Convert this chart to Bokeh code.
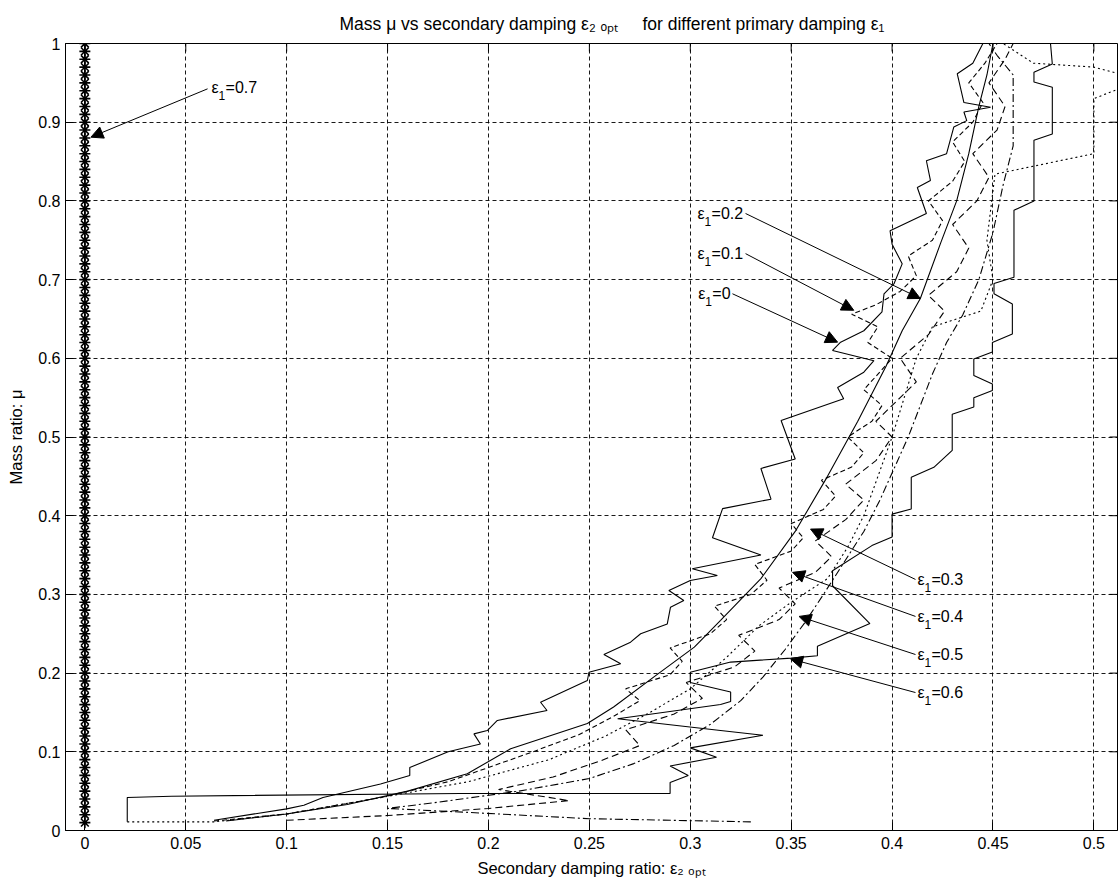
from bokeh.plotting import figure
from bokeh.models import Range1d, FixedTicker, Arrow, NormalHead, ColumnDataSource
from bokeh.core.properties import value
from bokeh.embed import file_html
from bokeh.resources import INLINE

FONT = "Liberation Sans"
NBSP = "\u00a0"

# ---- axes ----------------------------------------------------------------
X_TICKS = [0, 0.05, 0.1, 0.15, 0.2, 0.25, 0.3, 0.35, 0.4, 0.45, 0.5]
X_TICK_LABELS = ["0", "0.05", "0.1", "0.15", "0.2", "0.25", "0.3", "0.35", "0.4", "0.45", "0.5"]
Y_TICKS = [0, 0.1, 0.2, 0.3, 0.4, 0.5, 0.6, 0.7, 0.8, 0.9, 1]
Y_TICK_LABELS = ["0", "0.1", "0.2", "0.3", "0.4", "0.5", "0.6", "0.7", "0.8", "0.9", "1"]

TITLE = ("Mass \u03bc vs secondary damping \u03b5\u2082 \u2092\u209a\u209c" + NBSP * 5 +
         "for different primary damping \u03b5\u2081")
X_LABEL = "Secondary damping ratio: \u03b5\u2082 \u2092\u209a\u209c"
Y_LABEL = "Mass ratio: \u03bc"

# ---- optimum secondary damping (x) against mass ratio (y) -----------------
# eps1 = 0 : solid
EPS2_E0 = [0.064, 0.100, 0.1085, 0.118, 0.1465, 0.161, 0.161, 0.180, 0.196, 0.1928, 0.1994,
           0.2044, 0.229, 0.2258, 0.249, 0.2498, 0.2655, 0.2572, 0.2704, 0.2754, 0.2886,
           0.2902, 0.2968, 0.2894, 0.300, 0.3134, 0.301, 0.335, 0.311, 0.316, 0.340, 0.335,
           0.352, 0.345, 0.376, 0.373, 0.386, 0.391, 0.3705, 0.3745, 0.386, 0.395, 0.396,
           0.401, 0.405, 0.400, 0.399, 0.417, 0.4125, 0.419, 0.417, 0.427, 0.4306, 0.437,
           0.4356, 0.4488, 0.4356, 0.4323, 0.440, 0.445]
MU_E0 = [0.013, 0.0275, 0.032, 0.042, 0.059, 0.070, 0.080, 0.100, 0.110, 0.1228, 0.127,
         0.1398, 0.1525, 0.163, 0.1906, 0.2011, 0.2118, 0.2236, 0.2393, 0.250, 0.2625,
         0.2837, 0.2922, 0.305, 0.3177, 0.324, 0.3325, 0.350, 0.372, 0.409, 0.421, 0.460,
         0.472, 0.521, 0.5485, 0.563, 0.5824, 0.597, 0.610, 0.6205, 0.635, 0.659, 0.682,
         0.695, 0.720, 0.745, 0.762, 0.784, 0.817, 0.826, 0.851, 0.860, 0.894, 0.902,
         0.913, 0.919, 0.925, 0.9615, 0.975, 1.000]

# eps1 = 0.1 : dashed
EPS2_E1 = [0.064, 0.100, 0.147, 0.180, 0.200, 0.222, 0.245, 0.262, 0.275, 0.268, 0.290,
           0.296, 0.290, 0.310, 0.318, 0.312, 0.330, 0.338, 0.332, 0.350, 0.356, 0.350,
           0.366, 0.372, 0.365, 0.380, 0.386, 0.378, 0.390, 0.395, 0.386, 0.393, 0.400,
           0.388, 0.393, 0.380, 0.392, 0.404, 0.412, 0.408, 0.420, 0.425, 0.418, 0.430,
           0.436, 0.430, 0.440, 0.445, 0.438, 0.446, 0.452]
MU_E1 = [0.012, 0.021, 0.042, 0.062, 0.080, 0.100, 0.122, 0.145, 0.165, 0.180, 0.198,
         0.215, 0.232, 0.250, 0.268, 0.285, 0.300, 0.318, 0.338, 0.355, 0.372, 0.390,
         0.408, 0.425, 0.445, 0.462, 0.480, 0.500, 0.520, 0.540, 0.560, 0.580, 0.600,
         0.620, 0.640, 0.656, 0.668, 0.685, 0.705, 0.730, 0.750, 0.775, 0.800, 0.825,
         0.850, 0.875, 0.900, 0.925, 0.950, 0.975, 1.000]

# eps1 = 0.2 : solid, smooth
EPS2_E2 = [0.070, 0.100, 0.130, 0.160, 0.1895, 0.211, 0.249, 0.262, 0.284, 0.302, 0.315,
           0.335, 0.352, 0.368, 0.383, 0.397, 0.405, 0.414, 0.424, 0.432, 0.438, 0.443,
           0.447, 0.450]
MU_E2 = [0.012, 0.021, 0.033, 0.050, 0.072, 0.104, 0.136, 0.157, 0.199, 0.233, 0.267,
         0.320, 0.380, 0.450, 0.520, 0.590, 0.635, 0.676, 0.746, 0.800, 0.860, 0.920,
         0.960, 1.000]

# eps1 = 0.3 : dash-dot
EPS2_E3 = [0.330, 0.250, 0.190, 0.150, 0.175, 0.215, 0.250, 0.272, 0.292, 0.310, 0.325,
           0.336, 0.347, 0.357, 0.366, 0.376, 0.386, 0.394, 0.401, 0.408, 0.414, 0.420,
           0.427, 0.435, 0.443, 0.450, 0.455, 0.460, 0.460, 0.452, 0.448]
MU_E3 = [0.011, 0.015, 0.023, 0.028, 0.036, 0.050, 0.066, 0.085, 0.108, 0.135, 0.165,
         0.195, 0.230, 0.265, 0.300, 0.340, 0.380, 0.420, 0.460, 0.500, 0.540, 0.580,
         0.620, 0.655, 0.700, 0.760, 0.820, 0.870, 0.960, 0.985, 1.000]

# eps1 = 0.4 : long dashes
EPS2_E4 = [0.100, 0.150, 0.200, 0.240, 0.205, 0.232, 0.255, 0.275, 0.268, 0.292, 0.306,
           0.298, 0.322, 0.332, 0.324, 0.344, 0.352, 0.344, 0.362, 0.370, 0.362, 0.377,
           0.386, 0.377, 0.392, 0.400, 0.392, 0.404, 0.412, 0.404, 0.418, 0.426, 0.418,
           0.432, 0.438, 0.430, 0.442, 0.448, 0.440, 0.452, 0.456, 0.448, 0.456, 0.460]
MU_E4 = [0.013, 0.019, 0.028, 0.038, 0.052, 0.068, 0.088, 0.108, 0.128, 0.148, 0.168,
         0.188, 0.208, 0.228, 0.248, 0.268, 0.288, 0.308, 0.328, 0.348, 0.368, 0.395,
         0.420, 0.440, 0.470, 0.500, 0.520, 0.550, 0.570, 0.600, 0.630, 0.660, 0.680,
         0.710, 0.740, 0.770, 0.800, 0.830, 0.860, 0.890, 0.920, 0.950, 0.980, 1.000]

# eps1 = 0.5 : dotted
EPS2_E5 = [0.021, 0.064, 0.100, 0.147, 0.190, 0.230, 0.258, 0.280, 0.300, 0.318, 0.334,
           0.350, 0.368, 0.378, 0.386, 0.393, 0.400, 0.406, 0.412, 0.420, 0.444, 0.450,
           0.447, 0.451, 0.500, 0.500, 0.515, 0.512, 0.500, 0.470, 0.455]
MU_E5 = [0.011, 0.011, 0.021, 0.042, 0.062, 0.090, 0.120, 0.150, 0.180, 0.220, 0.260,
         0.290, 0.320, 0.360, 0.400, 0.450, 0.500, 0.550, 0.600, 0.640, 0.660, 0.700,
         0.750, 0.834, 0.860, 0.930, 0.945, 0.962, 0.970, 0.975, 1.000]

# eps1 = 0.6 : solid, stepped
EPS2_E6 = [0.021, 0.021, 0.043, 0.186, 0.290, 0.290, 0.299, 0.290, 0.313, 0.300, 0.336,
           0.315, 0.264, 0.315, 0.320, 0.320, 0.300, 0.300, 0.320, 0.350, 0.363, 0.363,
           0.389, 0.3705, 0.3705, 0.390, 0.400, 0.400, 0.4095, 0.4095, 0.4207, 0.4298,
           0.4298, 0.4405, 0.4405, 0.4497, 0.4497, 0.4405, 0.4405, 0.4497, 0.4497, 0.4596,
           0.4596, 0.4505, 0.4505, 0.4604, 0.4604, 0.4703, 0.4703, 0.4794, 0.4794, 0.4703,
           0.4703, 0.4794, 0.4785]
MU_E6 = [0.011, 0.042, 0.0436, 0.047, 0.047, 0.061, 0.070, 0.082, 0.093, 0.105, 0.121,
         0.127, 0.142, 0.160, 0.164, 0.176, 0.188, 0.201, 0.214, 0.219, 0.222, 0.234,
         0.263, 0.311, 0.330, 0.362, 0.373, 0.402, 0.4085, 0.449, 0.4615, 0.483,
         0.529, 0.538, 0.550, 0.559, 0.5675, 0.578, 0.599, 0.608, 0.620, 0.631,
         0.669, 0.682, 0.695, 0.703, 0.788, 0.800, 0.877, 0.885, 0.9445, 0.951,
         0.9636, 0.974, 1.000]

# eps1 = 0.7 : optimum stays at zero over the whole sweep
MU_E7 = [0.01, 0.02, 0.03, 0.04, 0.05, 0.06, 0.07, 0.08, 0.09, 0.10,
         0.11, 0.12, 0.13, 0.14, 0.15, 0.16, 0.17, 0.18, 0.19, 0.20,
         0.21, 0.22, 0.23, 0.24, 0.25, 0.26, 0.27, 0.28, 0.29, 0.30,
         0.31, 0.32, 0.33, 0.34, 0.35, 0.36, 0.37, 0.38, 0.39, 0.40,
         0.41, 0.42, 0.43, 0.44, 0.45, 0.46, 0.47, 0.48, 0.49, 0.50,
         0.51, 0.52, 0.53, 0.54, 0.55, 0.56, 0.57, 0.58, 0.59, 0.60,
         0.61, 0.62, 0.63, 0.64, 0.65, 0.66, 0.67, 0.68, 0.69, 0.70,
         0.71, 0.72, 0.73, 0.74, 0.75, 0.76, 0.77, 0.78, 0.79, 0.80,
         0.81, 0.82, 0.83, 0.84, 0.85, 0.86, 0.87, 0.88, 0.89, 0.90,
         0.91, 0.92, 0.93, 0.94, 0.95, 0.96, 0.97, 0.98, 0.99, 1.00]
EPS2_E7 = [0.0] * len(MU_E7)

# ---- curve annotations -------------------------------------------------------
NOTE_VALUES = ["0.7", "0.2", "0.1", "0", "0.3", "0.4", "0.5", "0.6"]
NOTE_X = [0.0628, 0.3036, 0.3036, 0.3040, 0.4126, 0.4126, 0.4126, 0.4126]
NOTE_Y = [0.9435, 0.784, 0.733, 0.682, 0.319, 0.272, 0.2236, 0.1753]
ARROW_TAIL_X = [0.0608, 0.3274, 0.3274, 0.3209, 0.4116, 0.4116, 0.4116, 0.4116]
ARROW_TAIL_Y = [0.9424, 0.784, 0.733, 0.682, 0.319, 0.272, 0.2236, 0.1753]
ARROW_TIP_X = [0.003, 0.414, 0.381, 0.373, 0.3596, 0.3507, 0.3539, 0.3497]
ARROW_TIP_Y = [0.881, 0.676, 0.661, 0.6205, 0.383, 0.328, 0.272, 0.218]

X_START, X_END = -0.0096, 0.5117
W, H = 1118, 887
LEFT, RIGHT, TOP, BOTTOM = 65, 1, 43, 57
FRAME_W = W - LEFT - RIGHT
FRAME_H = H - TOP - BOTTOM
TICK_PX = 8

p = figure(width=W, height=H, x_range=Range1d(X_START, X_END), y_range=Range1d(0, 1),
           output_backend="svg", toolbar_location=None,
           min_border_left=LEFT, min_border_right=RIGHT,
           min_border_top=TOP, min_border_bottom=BOTTOM,
           background_fill_color="white", border_fill_color="white")

# title
p.title.text = TITLE
p.title.align = "left"
p.title.offset = 274
p.title.text_font = FONT
p.title.text_font_size = "17.5px"
p.title.text_font_style = "normal"
p.title.text_color = "black"
p.title.standoff = 20

# axes styling
for ax in (p.xaxis[0], p.yaxis[0]):
    ax.major_tick_in = TICK_PX
    ax.major_tick_out = 0
    ax.minor_tick_line_color = None
    ax.axis_line_color = "black"
    ax.major_tick_line_color = "black"
    ax.major_label_text_font = FONT
    ax.major_label_text_font_size = "16px"
    ax.major_label_text_color = "black"
    ax.axis_label_text_font = FONT
    ax.axis_label_text_font_size = "16.5px"
    ax.axis_label_text_font_style = "normal"
    ax.axis_label_text_color = "black"

p.xaxis.ticker = FixedTicker(ticks=X_TICKS)
p.xaxis.major_label_overrides = dict(zip(X_TICKS, X_TICK_LABELS))
p.xaxis.major_label_standoff = 6
p.xaxis.axis_label = X_LABEL
p.xaxis.axis_label_standoff = 7
p.yaxis.ticker = FixedTicker(ticks=Y_TICKS)
p.yaxis.major_label_overrides = dict(zip(Y_TICKS, Y_TICK_LABELS))
p.yaxis.major_label_standoff = 5
p.yaxis.axis_label = Y_LABEL
p.yaxis.axis_label_standoff = 10

for g in (p.xgrid[0], p.ygrid[0]):
    g.grid_line_color = "black"
    g.grid_line_dash = "4 3"
    g.grid_line_width = 1
    g.grid_line_alpha = 0.9
p.xgrid.ticker = FixedTicker(ticks=X_TICKS)
p.ygrid.ticker = FixedTicker(ticks=Y_TICKS)

p.outline_line_color = "black"
p.outline_line_width = 1
p.outline_line_alpha = 1

# inward tick marks on the top and right edges of the box
dy_tick = TICK_PX / FRAME_H
dx_tick = TICK_PX / FRAME_W * (X_END - X_START)
p.segment(x0=X_TICKS, y0=[1] * len(X_TICKS), x1=X_TICKS, y1=[1 - dy_tick] * len(X_TICKS),
          line_color="black", line_width=1)
p.segment(x0=[X_END] * len(Y_TICKS), y0=Y_TICKS, x1=[X_END - dx_tick] * len(Y_TICKS), y1=Y_TICKS,
          line_color="black", line_width=1)

# curves
curves = [
    (EPS2_E0, MU_E0, "solid"),
    (EPS2_E1, MU_E1, "5 3"),
    (EPS2_E2, MU_E2, "solid"),
    (EPS2_E3, MU_E3, "8 3 2 3"),
    (EPS2_E4, MU_E4, "7 4"),
    (EPS2_E5, MU_E5, "2 3"),
    (EPS2_E6, MU_E6, "solid"),
]
for xs, ys, dash in curves:
    p.line(xs, ys, line_color="black", line_width=1.1, line_dash=dash)

p.scatter(EPS2_E7, MU_E7, marker="asterisk", size=11, line_color="black", line_width=1.6)

# arrows and their labels
arrow_src = ColumnDataSource(dict(x0=ARROW_TAIL_X, y0=ARROW_TAIL_Y,
                                  x1=ARROW_TIP_X, y1=ARROW_TIP_Y))
p.add_layout(Arrow(end=NormalHead(size=12, fill_color="black", line_color="black"),
                   x_start="x0", y_start="y0", x_end="x1", y_end="y1",
                   line_color="black", line_width=1, source=arrow_src))

note_src = ColumnDataSource(dict(x=NOTE_X, y=NOTE_Y,
                                 eps=["\u03b5"] * len(NOTE_X),
                                 sub=["1"] * len(NOTE_X),
                                 rest=["=" + v for v in NOTE_VALUES]))
p.text(x="x", y="y", text="eps", source=note_src, text_font=value(FONT),
       text_font_size="16px", text_baseline="middle", text_align="left", text_color="black")
p.text(x="x", y="y", text="sub", source=note_src, text_font=value(FONT),
       text_font_size="12px", text_baseline="middle", text_align="left", text_color="black",
       x_offset=7, y_offset=8)
p.text(x="x", y="y", text="rest", source=note_src, text_font=value(FONT),
       text_font_size="16px", text_baseline="middle", text_align="left", text_color="black",
       x_offset=14)

open("out.html", "w").write(file_html(p, INLINE))
